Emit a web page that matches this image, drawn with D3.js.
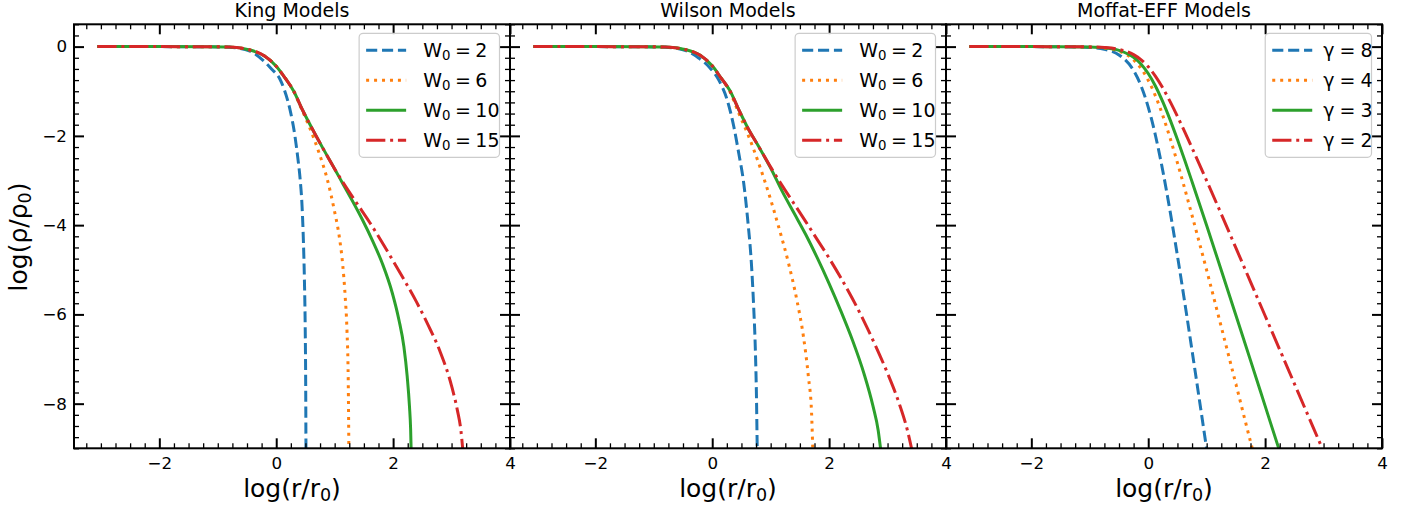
<!DOCTYPE html>
<html>
<head>
<meta charset="utf-8">
<script src="https://cdn.jsdelivr.net/npm/d3@7"></script>
<style>
  body { margin: 0; background: #fff; }
  svg { font-family: "DejaVu Sans", sans-serif; }
</style>
</head>
<body>
<svg id="chart" width="1414" height="510"></svg>
<script>
// ---- data: [log(r/r0), log(rho/rho0)] ----
const kingW2 = [[-3.06,0],[-2,0],[-1.2,-0.004],[-0.8,-0.015],[-0.45,-0.1],[-0.23,-0.3],[-0.08,-0.5],[0.06,-0.72],[0.14,-0.97],[0.23,-1.38],[0.32,-2.0],[0.37,-2.5],[0.41,-2.98],[0.443,-3.6],[0.465,-4.35],[0.482,-5.2],[0.496,-6.3],[0.504,-7.5],[0.51,-9.4]];
const kingW6 = [[-3.06,0],[-2,0],[-1.2,-0.003],[-0.8,-0.01],[-0.45,-0.075],[-0.2,-0.21],[0,-0.44],[0.15,-0.7],[0.3,-1.0],[0.4,-1.3],[0.567,-1.8],[0.738,-2.4],[0.879,-3.0],[0.993,-3.66],[1.078,-4.25],[1.135,-4.85],[1.18,-5.6],[1.21,-6.34],[1.232,-7.46],[1.245,-9.4]];
const kingW10 = [[-3.06,0],[-2,0],[-1.2,-0.003],[-0.8,-0.01],[-0.45,-0.075],[-0.2,-0.21],[0,-0.44],[0.15,-0.7],[0.3,-1.0],[0.45,-1.42],[0.6,-1.8],[0.8,-2.28],[1.0,-2.74],[1.135,-3.06],[1.305,-3.46],[1.475,-3.88],[1.645,-4.34],[1.816,-4.86],[1.986,-5.52],[2.099,-6.12],[2.184,-6.72],[2.241,-7.39],[2.28,-8.06],[2.30,-8.58],[2.315,-9.4]];
const kingW15 = [[-3.06,0],[-2,0],[-1.2,-0.003],[-0.8,-0.01],[-0.45,-0.075],[-0.2,-0.21],[0,-0.44],[0.15,-0.7],[0.3,-1.0],[0.45,-1.42],[0.6,-1.8],[0.8,-2.28],[1.0,-2.74],[1.2,-3.16],[1.4,-3.55],[1.6,-3.94],[1.8,-4.36],[2.0,-4.8],[2.2,-5.25],[2.4,-5.72],[2.6,-6.24],[2.8,-6.82],[3.0,-7.6],[3.1,-8.15],[3.16,-8.6],[3.19,-9.0],[3.21,-9.3]];

const wilsonW2 = [[-3.06,0],[-2,0],[-1.2,-0.004],[-0.79,-0.015],[-0.454,-0.09],[-0.227,-0.26],[-0.057,-0.45],[0.113,-0.75],[0.255,-1.19],[0.369,-1.79],[0.454,-2.39],[0.539,-3.06],[0.613,-3.96],[0.67,-4.85],[0.709,-5.82],[0.738,-6.79],[0.757,-7.84],[0.77,-9.0],[0.775,-9.4]];
const wilsonW6 = [[-3.06,0],[-2,0],[-1.2,-0.003],[-0.8,-0.01],[-0.45,-0.07],[-0.2,-0.2],[0,-0.43],[0.15,-0.7],[0.3,-1.0],[0.454,-1.49],[0.624,-2.01],[0.794,-2.61],[0.965,-3.28],[1.135,-4.03],[1.305,-4.85],[1.447,-5.67],[1.56,-6.49],[1.645,-7.39],[1.70,-8.21],[1.72,-9.0],[1.73,-9.4]];
const wilsonW10 = [[-3.06,0],[-2,0],[-1.2,-0.003],[-0.8,-0.01],[-0.45,-0.07],[-0.2,-0.2],[0,-0.43],[0.15,-0.7],[0.3,-0.98],[0.45,-1.4],[0.6,-1.8],[0.8,-2.25],[1.0,-2.72],[1.2,-3.25],[1.4,-3.73],[1.6,-4.21],[1.8,-4.74],[2.0,-5.31],[2.2,-5.92],[2.4,-6.58],[2.6,-7.34],[2.75,-8.05],[2.84,-8.6],[2.88,-9.0],[2.9,-9.2]];
const wilsonW15 = [[-3.06,0],[-2,0],[-1.2,-0.003],[-0.8,-0.01],[-0.45,-0.07],[-0.2,-0.2],[0,-0.43],[0.15,-0.7],[0.3,-0.98],[0.45,-1.4],[0.6,-1.8],[0.8,-2.25],[1.0,-2.7],[1.2,-3.12],[1.4,-3.52],[1.6,-3.92],[1.8,-4.33],[2.0,-4.74],[2.2,-5.18],[2.4,-5.65],[2.6,-6.16],[2.8,-6.72],[3.0,-7.32],[3.2,-8.0],[3.34,-8.6],[3.41,-9.0],[3.45,-9.25]];

const moffatG8 = [[-3.06,0],[-2,0],[-1.5,-0.002],[-1,-0.019],[-0.75,-0.061],[-0.5,-0.186],[-0.25,-0.537],[-0.125,-0.872],[0,-1.355],[0.125,-1.997],[0.25,-2.787],[0.375,-3.695],[0.5,-4.686],[0.625,-5.732],[0.75,-6.811],[0.875,-7.909],[1.0,-9.019],[1.05,-9.466]];
const moffatG4 = [[-3.06,0],[-2,0],[-1.5,-0.001],[-1,-0.011],[-0.75,-0.034],[-0.5,-0.103],[-0.25,-0.298],[-0.125,-0.485],[0,-0.753],[0.125,-1.109],[0.25,-1.548],[0.375,-2.053],[0.5,-2.604],[0.625,-3.184],[0.75,-3.784],[1.0,-5.011],[1.25,-6.28],[1.5,-7.56],[1.75,-8.85],[1.85,-9.35]];
const moffatG3 = [[-3.06,0],[-2,0],[-1.5,-0.001],[-1,-0.009],[-0.75,-0.027],[-0.5,-0.083],[-0.25,-0.239],[-0.125,-0.388],[0,-0.602],[0.125,-0.887],[0.25,-1.239],[0.375,-1.642],[0.5,-2.083],[0.625,-2.547],[0.75,-3.027],[1.0,-4.009],[1.25,-5.01],[1.5,-6.02],[1.75,-7.03],[2.0,-8.05],[2.25,-9.07],[2.3,-9.27]];
const moffatG2 = [[-3.06,0],[-2,0],[-1.5,-0.001],[-1,-0.007],[-0.75,-0.02],[-0.5,-0.062],[-0.25,-0.179],[-0.125,-0.291],[0,-0.452],[0.125,-0.666],[0.25,-0.929],[0.375,-1.232],[0.5,-1.562],[0.625,-1.911],[0.75,-2.27],[1.0,-3.006],[1.25,-3.752],[1.5,-4.51],[1.75,-5.27],[2.0,-6.03],[2.25,-6.79],[2.5,-7.55],[2.75,-8.31],[3.0,-9.07],[3.05,-9.22]];

const panelTitles = ['King Models', 'Wilson Models', 'Moffat-EFF Models'];
const wValues = ['2', '6', '10', '15'];
const gammaValues = ['8', '4', '3', '2'];
const xTicks = [-2, 0, 2, 4];
const yTicks = [0, -2, -4, -6, -8];
const xDomain = [-3.46, 4];
const yDomain = [-9, 0.5];

// ---- layout ----
const svg = d3.select('#chart');
const left0 = 74, axTop = 24.3, panelW = 436, panelH = 424;
const colors = ['#1f77b4', '#ff7f0e', '#2ca02c', '#d62728'];
const dashes = ['11.1,4.8', '3,4.95', null, '19.2,4.8,3,4.8'];

const panels = [
  {title: panelTitles[0], series: [kingW2, kingW6, kingW10, kingW15], sym: 'W', vals: wValues, textOff: 64},
  {title: panelTitles[1], series: [wilsonW2, wilsonW6, wilsonW10, wilsonW15], sym: 'W', vals: wValues, textOff: 64},
  {title: panelTitles[2], series: [moffatG8, moffatG4, moffatG3, moffatG2], sym: 'γ', vals: gammaValues, textOff: 58}
];

const xMinor = d3.range(-13, 17).map(i => i / 4).filter(v => v >= xDomain[0] && v <= xDomain[1] && !xTicks.includes(v));
const yMinor = d3.range(-36, 3).map(i => i / 4).filter(v => v >= yDomain[0] && v <= yDomain[1] && !yTicks.includes(v));

const styleAxis = (g, w) => {
  g.select('.domain').remove();
  g.selectAll('.tick line').attr('stroke', '#000').attr('stroke-width', w);
  g.selectAll('.tick text').attr('fill', '#000').style('font-size', '16.7px').style('font-family', '"DejaVu Sans", sans-serif');
};

panels.forEach((p, i) => {
  const x0 = left0 + i * panelW;
  const x = d3.scaleLinear().domain(xDomain).range([x0, x0 + panelW]);
  const y = d3.scaleLinear().domain(yDomain).range([axTop + panelH, axTop]);

  const g = svg.append('g');

  svg.append('clipPath').attr('id', 'clip' + i)
    .append('rect').attr('x', x0).attr('y', axTop).attr('width', panelW).attr('height', panelH);

  const line = d3.line()
    .x(d => x(d[0]))
    .y(d => y(d[1]))
    .curve(d3.curveMonotoneX);

  const curves = g.append('g').attr('clip-path', 'url(#clip' + i + ')');
  p.series.forEach((s, k) => {
    curves.append('path')
      .attr('d', line(s))
      .attr('fill', 'none')
      .attr('stroke', colors[k])
      .attr('stroke-width', 3)
      .attr('stroke-dasharray', dashes[k])
      .attr('stroke-linecap', 'butt');
  });

  // ticks on all four sides, pointing in
  const bottomMajor = d3.axisBottom(x).tickValues(xTicks).tickSize(-10).tickPadding(8.5);
  g.append('g').attr('transform', 'translate(0,' + (axTop + panelH) + ')').call(bottomMajor).call(a => styleAxis(a, 2));
  g.append('g').attr('transform', 'translate(0,' + (axTop + panelH) + ')')
    .call(d3.axisBottom(x).tickValues(xMinor).tickSize(-5).tickFormat('')).call(a => styleAxis(a, 1.3));
  g.append('g').attr('transform', 'translate(0,' + axTop + ')')
    .call(d3.axisTop(x).tickValues(xTicks).tickSize(-10).tickFormat('')).call(a => styleAxis(a, 2));
  g.append('g').attr('transform', 'translate(0,' + axTop + ')')
    .call(d3.axisTop(x).tickValues(xMinor).tickSize(-5).tickFormat('')).call(a => styleAxis(a, 1.3));

  const leftMajor = d3.axisLeft(y).tickValues(yTicks).tickSize(-10).tickPadding(7);
  if (i > 0) leftMajor.tickFormat('');
  g.append('g').attr('transform', 'translate(' + x0 + ',0)').call(leftMajor).call(a => styleAxis(a, 2));
  g.append('g').attr('transform', 'translate(' + x0 + ',0)')
    .call(d3.axisLeft(y).tickValues(yMinor).tickSize(-5).tickFormat('')).call(a => styleAxis(a, 1.3));
  g.append('g').attr('transform', 'translate(' + (x0 + panelW) + ',0)')
    .call(d3.axisRight(y).tickValues(yTicks).tickSize(-10).tickFormat('')).call(a => styleAxis(a, 2));
  g.append('g').attr('transform', 'translate(' + (x0 + panelW) + ',0)')
    .call(d3.axisRight(y).tickValues(yMinor).tickSize(-5).tickFormat('')).call(a => styleAxis(a, 1.3));

  // spines
  g.append('rect')
    .attr('x', x0).attr('y', axTop).attr('width', panelW).attr('height', panelH)
    .attr('fill', 'none').attr('stroke', '#000').attr('stroke-width', 2);

  // title
  g.append('text')
    .attr('x', x0 + panelW / 2).attr('y', 17.3)
    .attr('text-anchor', 'middle')
    .style('font-size', '19px')
    .text(p.title);

  // x label
  const xl = g.append('text')
    .attr('x', x0 + panelW / 2).attr('y', 497)
    .attr('text-anchor', 'middle')
    .style('font-size', '25px');
  xl.append('tspan').text('log(r/r');
  xl.append('tspan').text('0').style('font-size', '17.5px').attr('dy', 4);
  xl.append('tspan').text(')').attr('dy', -4);

  // legend
  const leg = g.append('g');
  const box = leg.append('rect')
    .attr('y', axTop + 9).attr('height', 124).attr('rx', 4)
    .attr('fill', '#fff').attr('fill-opacity', 0.8)
    .attr('stroke', '#ccc').attr('stroke-width', 1.2);
  const rows = [];
  p.vals.forEach((v, k) => {
    const cy = axTop + 9 + 17 + 30 * k;
    const hl = leg.append('line')
      .attr('y1', cy).attr('y2', cy)
      .attr('stroke', colors[k]).attr('stroke-width', 3)
      .attr('stroke-dasharray', dashes[k]);
    const t = leg.append('text').attr('y', cy + 7).style('font-size', '19px');
    t.append('tspan').text(p.sym);
    if (p.sym === 'W') {
      t.append('tspan').text('0').style('font-size', '13.3px').attr('dy', 2.5);
      t.append('tspan').text('=').attr('dx', 4.5).attr('dy', -2.5);
    } else {
      t.append('tspan').text('=').attr('dx', 5);
    }
    t.append('tspan').text(v).attr('dx', p.sym === 'W' ? 4.5 : 5);
    rows.push({hl, t});
  });
  const maxW = d3.max(rows, r => r.t.node().getComputedTextLength());
  const boxW = p.textOff + maxW + 9;
  const bx = x0 + panelW - 10.5 - boxW;
  box.attr('x', bx).attr('width', boxW);
  rows.forEach(r => {
    r.hl.attr('x1', bx + 7).attr('x2', bx + 47);
    r.t.attr('x', bx + p.textOff);
  });
});

// y label
const yl = svg.append('text')
  .attr('transform', 'translate(27,237) rotate(-90)')
  .attr('text-anchor', 'middle')
  .style('font-size', '25px');
yl.append('tspan').text('log(ρ/ρ');
yl.append('tspan').text('0').style('font-size', '17.5px').attr('dy', 4);
yl.append('tspan').text(')').attr('dy', -4);
</script>
</body>
</html>
